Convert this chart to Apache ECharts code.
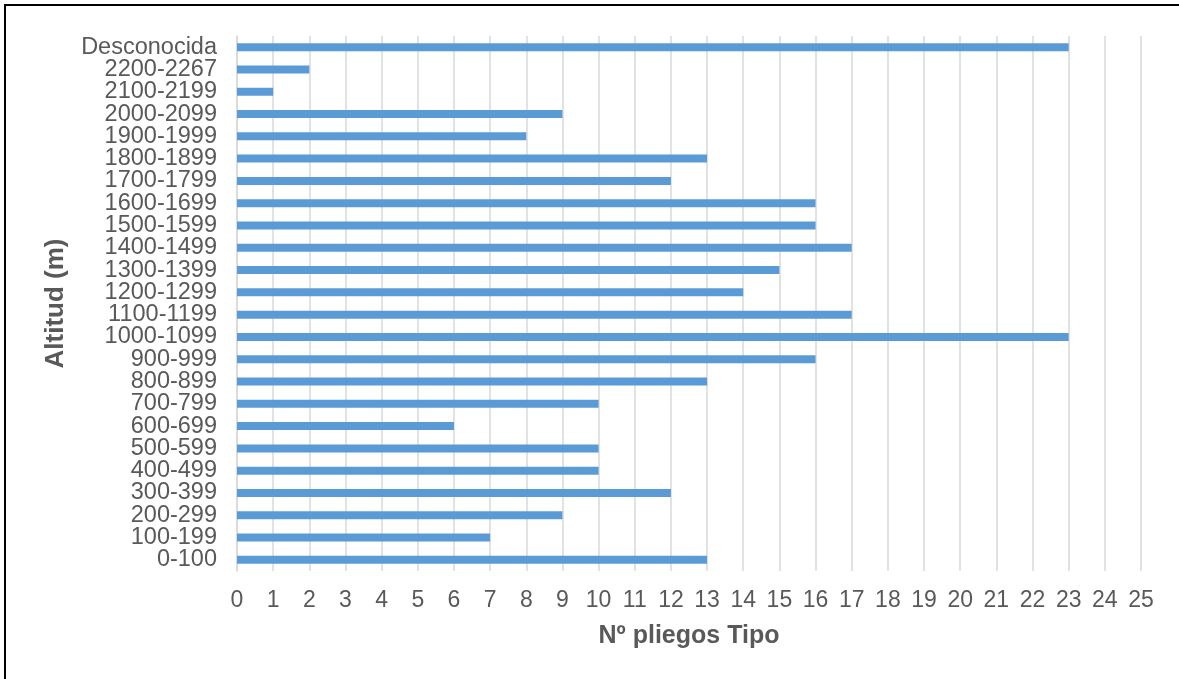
<!DOCTYPE html>
<html>
<head>
<meta charset="utf-8">
<style>
  html, body { margin: 0; padding: 0; background: #fff; }
  #chart { width: 1179px; height: 679px; }
</style>
<script src="https://cdn.jsdelivr.net/npm/echarts@6/dist/echarts.min.js"></script>
</head>
<body>
<div id="chart"></div>
<script>
// Altitude bands, listed from the lowest band upward
const categories = [
  '0-100', '100-199', '200-299', '300-399', '400-499', '500-599',
  '600-699', '700-799', '800-899', '900-999', '1000-1099', '1100-1199',
  '1200-1299', '1300-1399', '1400-1499', '1500-1599', '1600-1699',
  '1700-1799', '1800-1899', '1900-1999', '2000-2099', '2100-2199',
  '2200-2267', 'Desconocida'
];

// Number of type sheets per altitude band
const counts = [
  13, 7, 9, 12, 10, 10,
  6, 10, 13, 16, 23, 17,
  14, 15, 17, 16, 16,
  12, 13, 8, 9, 1,
  2, 23
];

const xTitle = 'Nº pliegos Tipo';
const yTitle = 'Altitud (m)';

const textColor = '#595959';
const fontFamily = '"Liberation Sans", Arial, sans-serif';

const chart = echarts.init(document.getElementById('chart'));
chart.setOption({
  backgroundColor: '#ffffff',
  animation: false,
  graphic: [{
    type: 'rect',
    shape: { x: 5, y: 5, width: 1300, height: 800 },
    style: { fill: 'none', stroke: '#000000', lineWidth: 2 },
    silent: true
  }],
  grid: { left: 237, right: 38, top: 36, bottom: 108, containLabel: false },
  xAxis: {
    type: 'value',
    min: 0,
    max: 25,
    interval: 1,
    name: xTitle,
    nameLocation: 'middle',
    nameGap: 53,
    nameTextStyle: { color: textColor, fontFamily: fontFamily, fontSize: 25, fontWeight: 'bold' },
    axisLine: { show: false },
    axisTick: { show: false },
    axisLabel: { color: textColor, fontFamily: fontFamily, fontSize: 23, margin: 18 },
    splitLine: { show: true, lineStyle: { color: '#d9d9d9', width: 1.5 } }
  },
  yAxis: {
    type: 'category',
    data: categories,
    name: yTitle,
    nameLocation: 'middle',
    nameGap: 168,
    nameRotate: 90,
    nameTextStyle: { color: textColor, fontFamily: fontFamily, fontSize: 26, fontWeight: 'bold' },
    axisLine: { show: true, lineStyle: { color: '#d9d9d9', width: 1.5 } },
    axisTick: { show: false },
    axisLabel: { color: textColor, fontFamily: fontFamily, fontSize: 23.5, margin: 20, interval: 0 },
    splitLine: { show: false }
  },
  series: [{
    type: 'bar',
    data: counts,
    barWidth: 8,
    itemStyle: { color: '#5b9bd5' }
  }]
});
</script>
</body>
</html>
